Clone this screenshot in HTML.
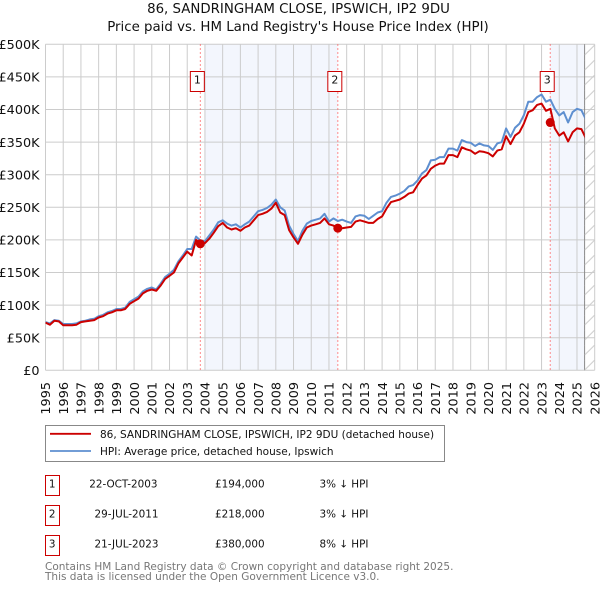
<!DOCTYPE html>
<html>
<head>
<meta charset="utf-8">
<title>86, Sandringham Close price paid vs HPI</title>
<style>
html,body{margin:0;padding:0;background:#fff;}
svg{display:block;font-family:"DejaVu Sans","Liberation Sans",sans-serif;}
</style>
</head>
<body>
<svg id="chart" xmlns="http://www.w3.org/2000/svg" width="600" height="590" viewBox="0 0 600 590">
  <defs>
    <pattern id="hatch" patternUnits="userSpaceOnUse" width="10" height="15" patternTransform="translate(584.7 0)">
      <line x1="0" y1="10" x2="10" y2="0" stroke="#ccc" stroke-width="1"/>
    </pattern>
    <clipPath id="plot-clip"><rect x="45.5" y="44.3" width="539.2" height="326"/></clipPath>
  </defs>
  <text x="298.5" y="13" text-anchor="middle" font-size="13.35" fill="#111">86, SANDRINGHAM CLOSE, IPSWICH, IP2 9DU</text>
  <text x="298" y="31" text-anchor="middle" font-size="13.35" fill="#111">Price paid vs. HM Land Registry's House Price Index (HPI)</text>
  <g id="bands"></g>
  <g id="grid"></g>
  <rect x="584.7" y="44.3" width="10" height="326" fill="url(#hatch)"/>
  <g id="axes"></g>
  <g id="sale-lines"></g>
  <g id="series" clip-path="url(#plot-clip)"></g>
  <g id="sale-markers"></g>

  <g>
    <rect x="45.5" y="425.5" width="399" height="36" fill="#fff" stroke="#888" stroke-width="1"/>
    <line x1="50" y1="433.8" x2="91" y2="433.8" stroke="#c00" stroke-width="1.8"/>
    <text x="100" y="438" font-size="10.5" fill="#111">86, SANDRINGHAM CLOSE, IPSWICH, IP2 9DU (detached house)</text>
    <line x1="50" y1="451" x2="91" y2="451" stroke="#5e8fd0" stroke-width="1.8"/>
    <text x="100" y="455" font-size="10.5" fill="#111">HPI: Average price, detached house, Ipswich</text>
  </g>

  <g font-size="10.4" fill="#111">
    <rect x="45.5" y="475.5" width="14" height="20" fill="#fff" stroke="#c00" stroke-width="1"/>
    <text x="52.2" y="487.5" text-anchor="middle">1</text>
    <text x="157.5" y="487.5" text-anchor="end">22-OCT-2003</text>
    <text x="215" y="487.5">£194,000</text>
    <text x="319.5" y="487.5">3% ↓ HPI</text>

    <rect x="45.5" y="505.5" width="14" height="20" fill="#fff" stroke="#c00" stroke-width="1"/>
    <text x="52.2" y="517.5" text-anchor="middle">2</text>
    <text x="158.5" y="517.5" text-anchor="end">29-JUL-2011</text>
    <text x="215" y="517.5">£218,000</text>
    <text x="319.5" y="517.5">3% ↓ HPI</text>

    <rect x="45.5" y="535.5" width="14" height="20" fill="#fff" stroke="#c00" stroke-width="1"/>
    <text x="52.2" y="547.5" text-anchor="middle">3</text>
    <text x="158.5" y="547.5" text-anchor="end">21-JUL-2023</text>
    <text x="215" y="547.5">£380,000</text>
    <text x="319.5" y="547.5">8% ↓ HPI</text>
  </g>

  <text x="45" y="570" font-size="10.5" fill="#777">Contains HM Land Registry data © Crown copyright and database right 2025.</text>
  <text x="45" y="580" font-size="10.5" fill="#777">This data is licensed under the Open Government Licence v3.0.</text>
</svg>
<script>
const yearTicks = [1995,1996,1997,1998,1999,2000,2001,2002,2003,2004,2005,2006,2007,2008,2009,2010,2011,2012,2013,2014,2015,2016,2017,2018,2019,2020,2021,2022,2023,2024,2025,2026];
const valueTicks = [0,50,100,150,200,250,300,350,400,450,500];
const valueTickLabels = ["£0","£50K","£100K","£150K","£200K","£250K","£300K","£350K","£400K","£450K","£500K"];
const startYear = 1995;
const samplesPerYear = 4;
const dataEndYear = 2025.43;
const hpiValues = [
74,72,77,76, 71,71,71,72, 75,76,78,79, 83,85,89,91, 94,94,96,105,
109,113,121,125, 127,124,133,143, 148,154,167,176, 186,186,205,199,
198,207,216,227, 230,225,222,224, 219,224,228,236, 244,246,249,254,
262,250,245,222, 209,198,214,225, 229,231,233,240, 228,233,229,231,
228,226,236,238, 237,232,237,242, 244,257,266,268, 271,275,282,284,
291,302,307,322, 323,327,327,340, 340,337,353,350, 349,344,348,345,
344,338,348,350, 371,358,372,378, 391,412,412,419, 423,412,415,401,
391,396,380,396, 401,399,385
];
const priceValues = [
73,70,76,75, 69,69,69,70, 74,75,76,77, 81,83,87,89, 92,92,94,102,
106,110,118,122, 124,122,130,140, 145,150,164,173, 182,176,200,194,
195,202,211,221, 226,219,216,218, 214,219,222,230, 238,240,243,248,
257,242,238,215, 204,194,208,219, 222,224,226,233, 224,222,218,218,
219,220,228,230, 228,226,226,232, 236,248,258,260, 262,266,271,273,
284,294,299,309, 314,317,317,330, 330,327,342,339, 337,332,336,335,
333,328,337,339, 359,347,360,365, 378,396,399,407, 409,398,401,371,
360,365,351,365, 371,370,356
];
const saleLabels = ["1","2","3"];
const saleDates = [2003.74,2011.5,2023.49];
const salePrices = [194,218,380];
const bandRanges = [[2004,2011.5],[2023.49,2025.43]];

const svgNS = "http://www.w3.org/2000/svg";
const xScale = d => 45.5 + (d - 1995) * (549.2 / 31);
const yScale = v => 370.3 - v * 0.652;
function make(parent, tag, attrs, text) {
  const el = document.createElementNS(svgNS, tag);
  for (const k in attrs) el.setAttribute(k, attrs[k]);
  if (text !== undefined) el.textContent = text;
  document.getElementById(parent).appendChild(el);
  return el;
}
bandRanges.forEach(r => {
  const el = make("bands", "rect", {x: xScale(r[0]), y: yScale(500), width: xScale(r[1]) - xScale(r[0]), height: yScale(0) - yScale(500), fill: "#f3f6fd"});
  
  
});
valueTicks.forEach((v, i) => {
  const line = make("grid", "line", {x1: 45.5, x2: 594.7, y1: yScale(v), y2: yScale(v), stroke: "#ccc", "stroke-width": 1});
  
  
  const label = make("axes", "text", {x: 39.5, y: yScale(v) + 4.7, "text-anchor": "end", "font-size": 12.8, fill: "#111"}, valueTickLabels[i]);
  
  
});
yearTicks.forEach(yr => {
  const line = make("grid", "line", {x1: xScale(yr), x2: xScale(yr), y1: yScale(500), y2: yScale(0), stroke: "#ccc", "stroke-width": 1});
  
  
  const px = xScale(yr) + 4.7;
  const label = make("axes", "text", {x: px, y: 382, "text-anchor": "end", "font-size": 12.8, fill: "#111", transform: "rotate(-90 " + px + " 382)"}, String(yr));
  
  
});
const endLine = make("grid", "line", {x1: xScale(dataEndYear), x2: xScale(dataEndYear), y1: yScale(500), y2: yScale(0), stroke: "#888", "stroke-width": 1});



function seriesPoints(values) {
  return values.map((v, i) => xScale(startYear + i / samplesPerYear).toFixed(1) + "," + yScale(v).toFixed(1)).join(" ");
}
const hpiLine = make("series", "polyline", {points: seriesPoints(hpiValues), fill: "none", stroke: "#5e8fd0", "stroke-width": 2, "stroke-linejoin": "round"});


const priceLine = make("series", "polyline", {points: seriesPoints(priceValues), fill: "none", stroke: "#c00", "stroke-width": 2, "stroke-linejoin": "round"});



saleDates.forEach((d, i) => {
  const px = xScale(d);
  const line = make("sale-lines", "line", {x1: px, x2: px, y1: yScale(500), y2: yScale(0), stroke: "#f66", "stroke-width": 1, "stroke-dasharray": "1.5 2.5"});
  
  
  const dot = make("sale-markers", "circle", {cx: px, cy: yScale(salePrices[i]), r: 4.5, fill: "#c00"});
  
  
  const box = make("sale-markers", "rect", {x: px - 10, y: 71.5, width: 14, height: 20, fill: "#fff", stroke: "#c00", "stroke-width": 1});
  
  
  const num = make("sale-markers", "text", {x: px - 3, y: 83.5, "text-anchor": "middle", "font-size": 11, fill: "#111"}, saleLabels[i]);
  
  
});
</script>
</body>
</html>
